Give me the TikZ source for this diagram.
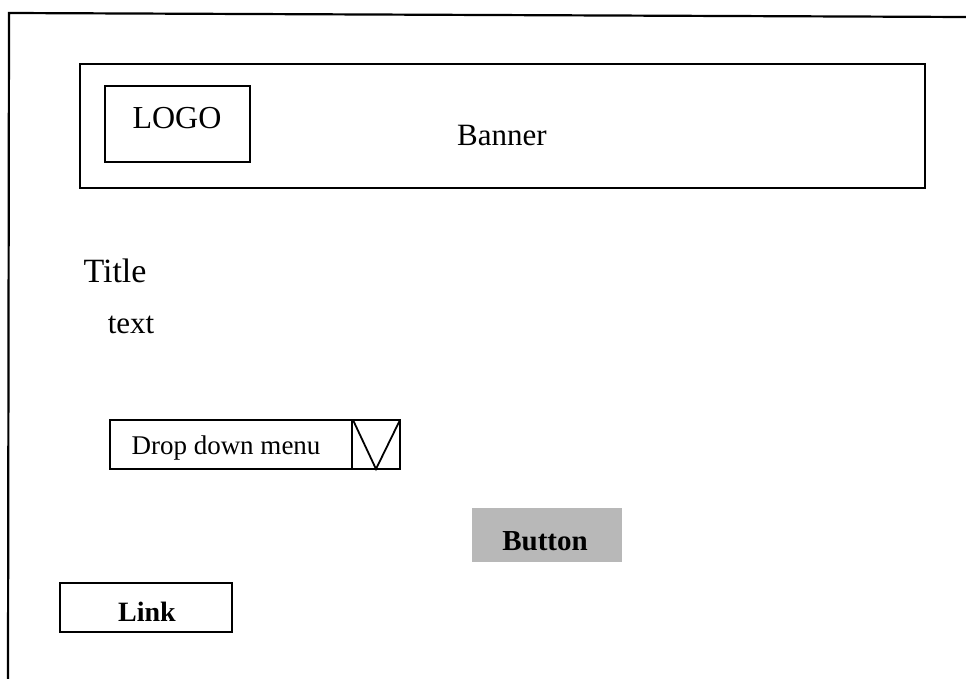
\documentclass[tikz,border=0pt]{standalone}
\usepackage{fontspec}
\setmainfont{Liberation Serif}
\begin{document}
\begin{tikzpicture}[x=1pt,y=-1pt,
  frame/.style={line width=2.2pt},
  boxstyle/.style={draw, line width=2.2pt, inner sep=0pt},
  txt/.style={inner sep=0pt, font=\fontsize{31}{36}\selectfont},
  smalltxt/.style={inner sep=0pt, font=\fontsize{27}{32}\selectfont}]
\useasboundingbox (0,0) rectangle (966,679);
% outer page frame (left and top edges)
\coordinate (tl) at (9,13);
\coordinate (tr) at (966,17);
\coordinate (bl) at (8,679);
\draw[frame] (bl) -- (tl) -- (tr);
% banner
\node[boxstyle, minimum width=845pt, minimum height=124pt] (banner) at (502.5,126) {};
\node[txt] (bannertext) at (502,136) {Banner};
\node[boxstyle, minimum width=145pt, minimum height=76pt] (logo) at (177.5,124) {};
\node[txt, font=\fontsize{32}{36}\selectfont] (logotext) at (177,118) {LOGO};
% title and text
\node[txt, font=\fontsize{34}{38}\selectfont] (title) at (115,271) {Title};
\node[txt] (text) at (131,325) {text};
% drop down menu
\node[boxstyle, minimum width=290pt, minimum height=49pt] (drop) at (255,444.5) {};
\node[smalltxt] (droptext) at (226,448) {Drop down menu};
\coordinate (dtop) at (352,420);
\coordinate (dbot) at (352,469);
\coordinate (vl) at (353,420);
\coordinate (vb) at (376,469);
\coordinate (vr) at (400,420);
\draw[line width=2pt] (dtop) -- (dbot);
\draw[line width=1.8pt] (vl) -- (vb) -- (vr);
% button
\node[fill=black!28, minimum width=150pt, minimum height=54pt, inner sep=0pt] (button) at (547,535) {};
\node[inner sep=0pt, font=\fontsize{29}{34}\selectfont\bfseries] (buttontext) at (545,541) {Button};
% link
\node[boxstyle, minimum width=172pt, minimum height=49pt] (link) at (146,607.5) {};
\node[inner sep=0pt, font=\fontsize{28}{32}\selectfont\bfseries] (linktext) at (147,612) {Link};
\end{tikzpicture}
\end{document}
